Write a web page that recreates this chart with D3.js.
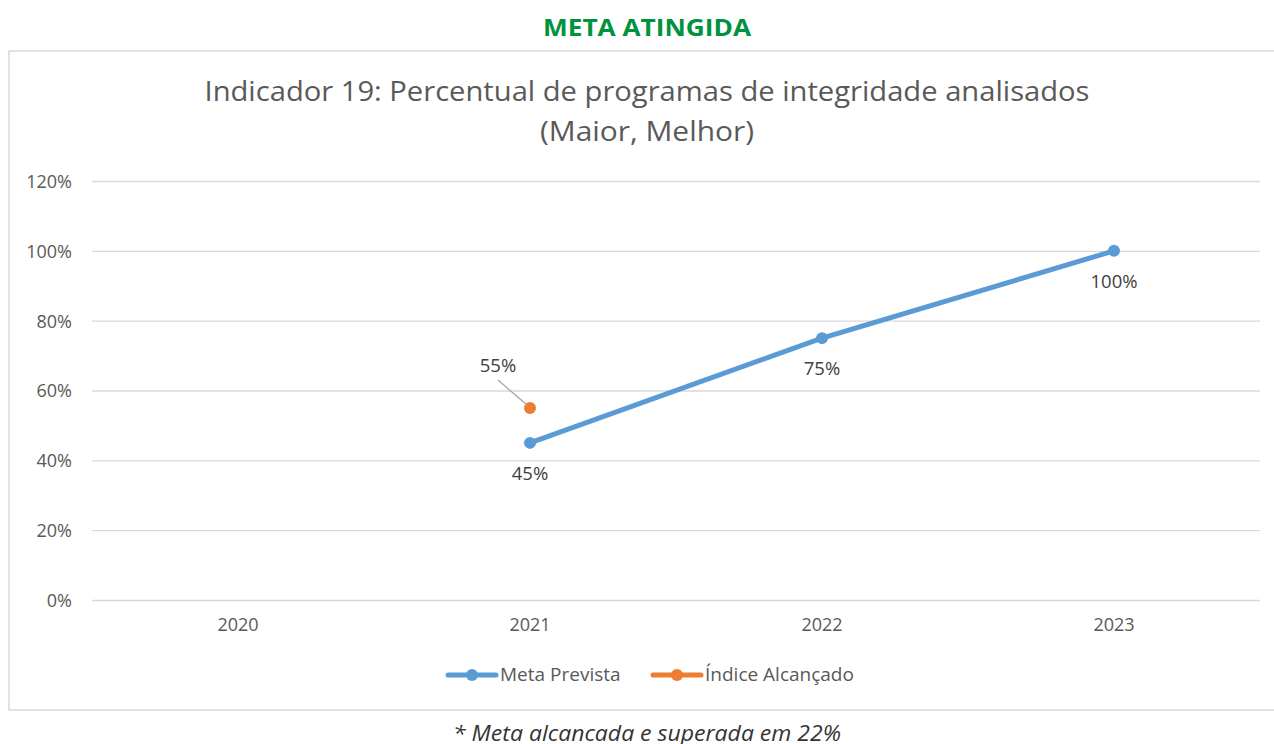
<!DOCTYPE html>
<html>
<head>
<meta charset="utf-8">
<script src="https://cdn.jsdelivr.net/npm/d3@7"></script>
<style>
  html, body { margin: 0; padding: 0; background: #fff; }
  svg, svg text { font-family: "Open Sans", "Noto Sans", "Liberation Sans", sans-serif; }
  svg { display: block; }
</style>
</head>
<body>
<svg id="chart" width="1274" height="744"></svg>
<script>
const categories = ["2020", "2021", "2022", "2023"];
const metaPrevista = [null, 0.45, 0.75, 1.00];
const indiceAlcancado = [null, 0.55, null, null];
const yTicks = [0, 0.2, 0.4, 0.6, 0.8, 1.0, 1.2];
const seriesNames = ["Meta Prevista", "Índice Alcançado"];
const headerText = "META ATINGIDA";
const titleLines = ["Indicador 19: Percentual de programas de integridade analisados", "(Maior, Melhor)"];
const footnote = "* Meta alcancada e superada em 22%";

const colors = { meta: "#5B9BD5", indice: "#ED7D31", grid: "#D9D9D9", text: "#595959", green: "#00923F" };
const FONT = '"Open Sans", "Noto Sans", "Liberation Sans", sans-serif';

const svg = d3.select("#chart");

// frame
svg.append("rect").attr("x", 9).attr("y", 51).attr("width", 1275).attr("height", 659)
  .attr("fill", "#fff").attr("stroke", colors.grid).attr("stroke-width", 1.5);

// header
svg.append("text").attr("x", 647).attr("y", 36).attr("text-anchor", "middle")
  .attr("font-size", 24).attr("font-weight", "bold").attr("fill", colors.green)
  .attr("textLength", 208).attr("lengthAdjust", "spacingAndGlyphs")
  .text(headerText);

// title
svg.append("text").attr("x", 647).attr("y", 101).attr("text-anchor", "middle")
  .attr("font-size", 28).attr("fill", colors.text)
  .attr("textLength", 885).attr("lengthAdjust", "spacingAndGlyphs")
  .text(titleLines[0]);
svg.append("text").attr("x", 647).attr("y", 141).attr("text-anchor", "middle")
  .attr("font-size", 28).attr("fill", colors.text)
  .attr("textLength", 214).attr("lengthAdjust", "spacingAndGlyphs")
  .text(titleLines[1]);

const x = d3.scaleBand().domain(categories).range([92, 1260]).padding(0);
const y = d3.scaleLinear().domain([0, 1.2]).range([600, 181]);
const cx = c => x(c) + x.bandwidth() / 2;

// grid + y labels
const yAxis = d3.axisLeft(y).tickValues(yTicks).tickFormat(d3.format(".0%")).tickSize(-(1260 - 92)).tickPadding(20);
const gy = svg.append("g").attr("transform", "translate(92,0)").call(yAxis)
  .attr("font-family", FONT);
gy.select(".domain").remove();
gy.selectAll(".tick line").attr("stroke", colors.grid).attr("stroke-width", 1.3);
gy.selectAll(".tick text").attr("fill", colors.text).attr("font-size", 18).attr("x", -20).attr("dy", "0.36em");

// x axis labels
const xAxis = d3.axisBottom(x).tickSize(0).tickPadding(18);
const gx = svg.append("g").attr("transform", "translate(0,600)").call(xAxis)
  .attr("font-family", FONT);
gx.select(".domain").remove();
gx.selectAll(".tick text").attr("fill", colors.text).attr("font-size", 18);

// meta prevista line
const metaData = categories.map((c, i) => ({ c, v: metaPrevista[i] })).filter(d => d.v != null);
const line = d3.line().x(d => cx(d.c)).y(d => y(d.v));
svg.append("path").datum(metaData).attr("d", line).attr("fill", "none")
  .attr("stroke", colors.meta).attr("stroke-width", 5).attr("stroke-linecap", "round");
svg.selectAll(".metaPt").data(metaData).enter().append("circle")
  .attr("cx", d => cx(d.c)).attr("cy", d => y(d.v)).attr("r", 6).attr("fill", colors.meta);
svg.selectAll(".metaLbl").data(metaData).enter().append("text")
  .attr("x", d => cx(d.c)).attr("y", d => y(d.v) + 37).attr("text-anchor", "middle")
  .attr("font-size", 18.5).attr("fill", "#404040").text(d => d3.format(".0%")(d.v));

// indice alcançado
const indData = categories.map((c, i) => ({ c, v: indiceAlcancado[i] })).filter(d => d.v != null);
svg.selectAll(".indPt").data(indData).enter().append("circle")
  .attr("cx", d => cx(d.c)).attr("cy", d => y(d.v)).attr("r", 6).attr("fill", colors.indice);
indData.forEach(d => {
  const px = cx(d.c), py = y(d.v);
  svg.append("line").attr("x1", px - 32).attr("y1", py - 28).attr("x2", px - 3).attr("y2", py - 3)
    .attr("stroke", "#A6A6A6").attr("stroke-width", 1.3);
  svg.append("text").attr("x", px - 32).attr("y", py - 36).attr("text-anchor", "middle")
    .attr("font-size", 18.5).attr("fill", "#404040").text(d3.format(".0%")(d.v));
});

// legend
const legend = [
  { name: seriesNames[0], color: colors.meta, x0: 448 },
  { name: seriesNames[1], color: colors.indice, x0: 653 }
];
legend.forEach(l => {
  const g = svg.append("g");
  g.append("line").attr("x1", l.x0).attr("x2", l.x0 + 48).attr("y1", 675).attr("y2", 675)
    .attr("stroke", l.color).attr("stroke-width", 5).attr("stroke-linecap", "round");
  g.append("circle").attr("cx", l.x0 + 24).attr("cy", 675).attr("r", 6).attr("fill", l.color);
  g.append("text").attr("x", l.x0 + 52).attr("y", 681).attr("font-size", 19).attr("fill", colors.text).text(l.name);
});

// footnote
svg.append("text").attr("x", 647).attr("y", 741).attr("text-anchor", "middle")
  .attr("font-size", 21).attr("font-style", "italic").attr("fill", "#333")
  .attr("textLength", 388).attr("lengthAdjust", "spacingAndGlyphs")
  .text(footnote);
</script>
</body>
</html>
